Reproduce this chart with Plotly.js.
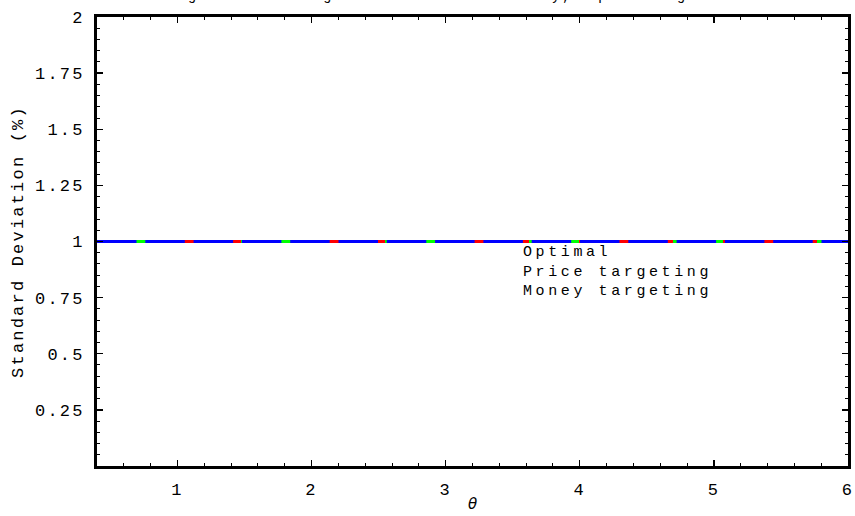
<!DOCTYPE html>
<html>
<head>
<meta charset="utf-8">
<script src="https://cdn.plot.ly/plotly-3.0.1.min.js"></script>
<style>
  html, body { margin: 0; padding: 0; background: #fff; }
  .xtick text, .ytick text, .g-ytitle text { letter-spacing: 2.2px; }
  .annotation-text { letter-spacing: 2px; }
  .annotation[data-index="1"] .annotation-text { letter-spacing: 3.6px; }
</style>
</head>
<body>
<div id="chart" style="width:855px;height:516px;"></div>
<script>
// ---- data ----
const chartTitle = "Figure 3: Average Inflation Volatility, Equal Weights";
const seriesNames = ["Optimal", "Price targeting", "Money targeting"];
const theta = [0.4, 6];
const optimal = [1, 1];
const priceTargeting = [1, 1];
const moneyTargeting = [1, 1];
const xTickVals = [1, 2, 3, 4, 5, 6];
const xTickText = ["1", "2", "3", "4", "5", "6"];
const yTickVals = [0.25, 0.5, 0.75, 1, 1.25, 1.5, 1.75, 2];
const yTickText = ["0.25", "0.5", "0.75", "1", "1.25", "1.5", "1.75", "2"];

const mono = "Liberation Mono, DejaVu Sans Mono, monospace";

const traces = [
  {x: theta, y: optimal, name: seriesNames[0], mode: "lines",
   line: {color: "#ff0000", width: 3}},
  {x: theta, y: priceTargeting, name: seriesNames[1], mode: "lines",
   line: {color: "#00ff00", width: 3, dash: "14px,22px"}},
  {x: theta, y: moneyTargeting, name: seriesNames[2], mode: "lines",
   line: {color: "#0000ff", width: 3, dash: "39.5px,8.8px"}}
];

// text-only legend block (one annotation, lines stacked)
const legendAnn = {
  text: seriesNames.join("<br>"), xref: "paper", yref: "paper", x: 0.565, y: 0.4325,
  xanchor: "left", yanchor: "middle", align: "left", showarrow: false,
  font: {family: mono, size: 15, color: "#000"}
};

const titleAnn = {
  text: chartTitle, xref: "paper", yref: "paper", x: 0.46, y: 1,
  xanchor: "center", yanchor: "bottom", yshift: 11, showarrow: false,
  font: {family: mono, size: 14, color: "#000"}
};

const axisCommon = {
  showline: true, linecolor: "#000", linewidth: 3, mirror: "allticks",
  ticks: "inside", ticklen: 6, tickwidth: 1.3, tickcolor: "#000",
  showgrid: false, zeroline: false,
  tickfont: {family: mono, size: 17, color: "#000"}
};

const layout = {
  width: 855, height: 516,
  margin: {l: 97, r: 7, t: 17, b: 50},
  paper_bgcolor: "#fff", plot_bgcolor: "#fff",
  showlegend: false,
  xaxis: Object.assign({}, axisCommon, {
    range: [0.4, 6], tickmode: "array", tickvals: xTickVals, ticktext: xTickText,
    minor: {dtick: 0.2, tick0: 0, ticks: "inside", ticklen: 3, tickwidth: 1, tickcolor: "#000", showgrid: false},
    ticklabelstandoff: 6,
    title: {text: "θ", standoff: 0, font: {family: "DejaVu Sans", size: 15, style: "italic", color: "#000"}}
  }),
  yaxis: Object.assign({}, axisCommon, {
    range: [0, 2], tickmode: "array", tickvals: yTickVals, ticktext: yTickText,
    minor: {dtick: 0.05, tick0: 0, ticks: "inside", ticklen: 3, tickwidth: 1, tickcolor: "#000", showgrid: false},
    ticklabelstandoff: 6,
    title: {text: "Standard Deviation (%)", standoff: 8, font: {family: mono, size: 17, color: "#000"}}
  }),
  annotations: [titleAnn, legendAnn]
};

Plotly.newPlot("chart", traces, layout, {displayModeBar: false, staticPlot: true});
</script>
</body>
</html>
